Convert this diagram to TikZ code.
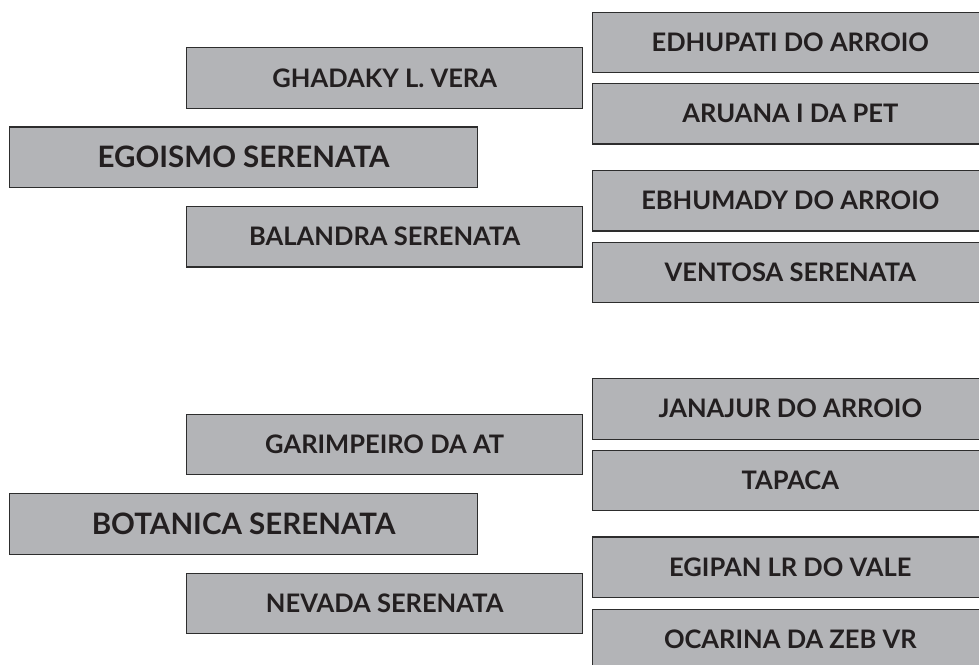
\documentclass[tikz,border=0pt]{standalone}
\usepackage{fontspec}
\setmainfont{Lato}
\definecolor{cajafondo}{RGB}{179,180,183}
\definecolor{cajaborde}{RGB}{45,45,45}
\definecolor{cajatexto}{RGB}{35,31,32}

\begin{document}
\begin{tikzpicture}[x=1pt,y=-1pt,
  caja/.style={draw=cajaborde,fill=cajafondo,line width=1.1pt,text=cajatexto,
    font=\bfseries\fontsize{25.5}{26}\selectfont,inner sep=0pt,
    minimum width=396pt,minimum height=60.5pt,text height=18.3pt,text depth=-1.6pt},
  grande/.style={caja,minimum width=468pt,text height=21pt,
    font=\bfseries\fontsize{29.5}{30}\selectfont}]
  \useasboundingbox (0,0) rectangle (979,664);
  \clip (0,0) rectangle (979,664);
  % grupo superior
  \node[grande] (egoismo) at (243.6,157.2) {EGOISMO SERENATA};
  \node[caja] (ghadaky) at (384.7,78) {GHADAKY L. VERA};
  \node[caja] (balandra) at (384.7,236.7) {BALANDRA SERENATA};
  \node[caja] (edhupati) at (790.3,42.3) {EDHUPATI DO ARROIO};
  \node[caja] (aruana) at (790.3,113.7) {ARUANA I DA PET};
  \node[caja] (ebhumady) at (790.3,200.7) {EBHUMADY DO ARROIO};
  \node[caja] (ventosa) at (790.3,272.5) {VENTOSA SERENATA};
  % grupo inferior
  \node[grande] (botanica) at (243.6,524) {BOTANICA SERENATA};
  \node[caja] (garimpeiro) at (384.7,444.5) {GARIMPEIRO DA AT};
  \node[caja] (nevada) at (384.7,603.3) {NEVADA SERENATA};
  \node[caja] (janajur) at (790.3,408.8) {JANAJUR DO ARROIO};
  \node[caja] (tapaca) at (790.3,480.5) {TAPACA};
  \node[caja] (egipan) at (790.3,567.2) {EGIPAN LR DO VALE};
  \node[caja] (ocarina) at (790.3,639.5) {OCARINA DA ZEB VR};
\end{tikzpicture}
\end{document}
